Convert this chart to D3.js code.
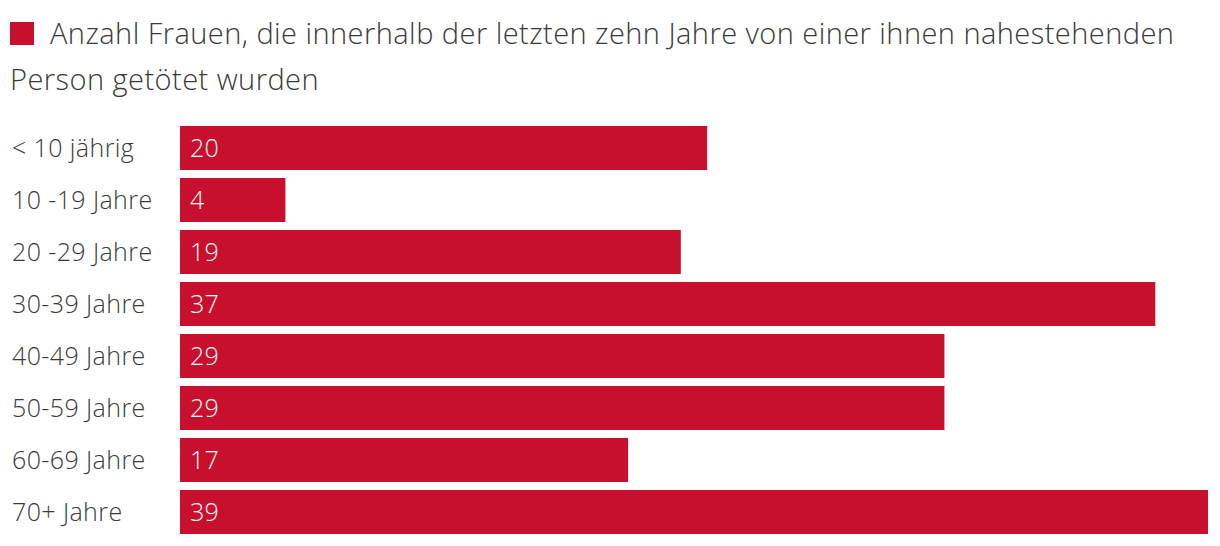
<!DOCTYPE html>
<html><head><meta charset="utf-8">
<script src="https://cdn.jsdelivr.net/npm/d3@7"></script>
<style>body{margin:0;background:#fff;} svg{display:block;}</style>
</head><body>
<script>
const categories = ["< 10 jährig","10 -19 Jahre","20 -29 Jahre","30-39 Jahre","40-49 Jahre","50-59 Jahre","60-69 Jahre","70+ Jahre"];
const values = [20,4,19,37,29,29,17,39];
const titleLines = ["Anzahl Frauen, die innerhalb der letzten zehn Jahre von einer ihnen nahestehenden","Person getötet wurden"];

const W=1220,H=546, red="#c8102e", textCol="#3a3a3a", font="'Open Sans', sans-serif";
const svg=d3.select("body").append("svg").attr("width",W).attr("height",H);

svg.append("rect").attr("x",10).attr("y",22).attr("width",24).attr("height",23).attr("fill",red);
svg.append("text").attr("x",50).attr("y",44).attr("font-family",font).attr("font-weight",300).attr("font-size",29).attr("letter-spacing",0.45).attr("fill",textCol).text(titleLines[0]);
svg.append("text").attr("x",10).attr("y",90).attr("font-family",font).attr("font-weight",300).attr("font-size",29).attr("letter-spacing",0.45).attr("fill",textCol).text(titleLines[1]);

const x=d3.scaleLinear().domain([0,39]).range([180,1208]);
const y=d3.scaleBand().domain(categories).range([126,534]).paddingInner(8/52).paddingOuter(0);

const g=svg.append("g");
g.selectAll("rect.bar").data(values).join("rect").attr("class","bar")
 .attr("x",x(0)).attr("y",(d,i)=>y(categories[i])).attr("width",d=>x(d)-x(0)).attr("height",y.bandwidth()).attr("fill",red);
g.selectAll("text.val").data(values).join("text").attr("class","val")
 .attr("x",x(0)+10).attr("y",(d,i)=>y(categories[i])+y.bandwidth()/2+8.5).attr("font-family",font).attr("font-weight",300).attr("font-size",25).attr("letter-spacing",0.3).attr("fill","#fff").text(d=>d);
g.selectAll("text.cat").data(categories).join("text").attr("class","cat")
 .attr("x",12).attr("y",d=>y(d)+y.bandwidth()/2+8.5).attr("font-family",font).attr("font-weight",300).attr("font-size",25).attr("letter-spacing",0.4).attr("fill",textCol).text(d=>d);
</script>
</body></html>
